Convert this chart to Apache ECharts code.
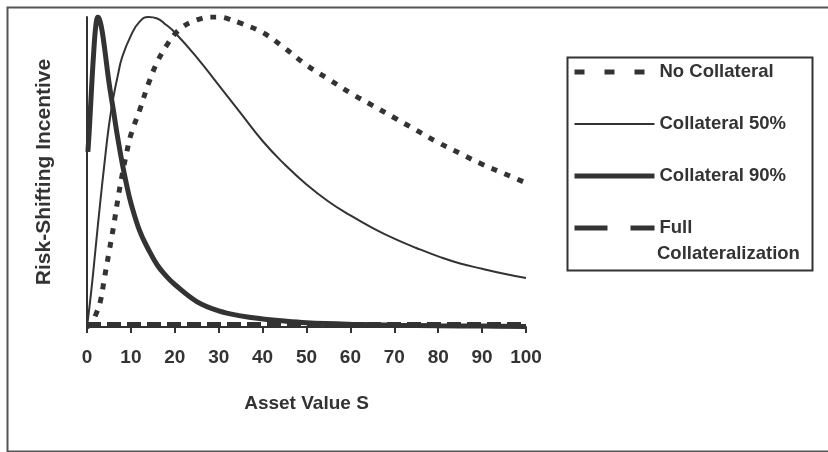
<!DOCTYPE html>
<html>
<head>
<meta charset="utf-8">
<script src="https://cdn.jsdelivr.net/npm/echarts@6/dist/echarts.min.js"></script>
<style>html,body{margin:0;padding:0;background:#fff}#c{width:828px;height:452px}</style>
</head>
<body>
<div id="c"></div>
<script>
// Asset value S sample points and normalized risk-shifting incentive
const sNoColl = [0,1,2,3,4,5,6,7,8,9,10,12,14,16,18,20,22,24,26,28,30,32,35,40,45,50,55,60,65,70,75,80,85,90,95,100];
const vNoColl = [0,0.01,0.04,0.08,0.16,0.24,0.32,0.41,0.49,0.56,0.62,0.70,0.785,0.855,0.905,0.945,0.97,0.985,0.995,1.0,1.0,0.995,0.98,0.95,0.90,0.845,0.80,0.755,0.715,0.675,0.635,0.595,0.56,0.525,0.495,0.465];

const s50 = [0,1,2,3,4,5,6,7,8,10,12,14,16,18,20,25,30,35,40,45,50,55,60,65,70,75,80,85,90,95,100];
const v50 = [0,0.12,0.26,0.40,0.53,0.65,0.74,0.81,0.87,0.94,0.985,1.0,0.995,0.975,0.95,0.87,0.78,0.69,0.60,0.525,0.46,0.405,0.36,0.32,0.285,0.255,0.228,0.205,0.188,0.172,0.158];

const s90 = [0.2,0.5,1,1.5,2,2.5,3,3.5,4,5,6,7,8,9,10,12,14,16,18,20,25,30,35,40,45,50,60,70,80,90,100];
const v90 = [0.565,0.63,0.76,0.88,0.97,1.0,0.985,0.95,0.9,0.79,0.70,0.61,0.53,0.46,0.40,0.31,0.25,0.2,0.165,0.137,0.082,0.052,0.036,0.026,0.019,0.014,0.009,0.006,0.004,0.003,0.002];

const sFull = [0,100];
const vFull = [0.008,0.008];

const seriesNames = ['No Collateral','Collateral 50%','Collateral 90%','Full Collateralization'];
const xTicks = [0,10,20,30,40,50,60,70,80,90,100];
const xTitle = 'Asset Value S';
const yTitle = 'Risk-Shifting Incentive';

function pairs(xs, ys){ return xs.map((x,i)=>[x, ys[i]]); }

const ink = '#333';
const font = 'Liberation Sans, Arial, Helvetica, sans-serif';
const hide = {opacity:0, color:ink};

const chart = echarts.init(document.getElementById('c'), null, {renderer:'canvas'});
chart.setOption({
  animation:false,
  backgroundColor:'#fff',
  color:[ink,ink,ink,ink],
  grid:{left:87, right:302, top:17, bottom:125, containLabel:false},
  xAxis:{
    type:'value', min:xTicks[0], max:xTicks[xTicks.length-1], interval:10,
    axisLine:{lineStyle:{color:ink,width:2}},
    axisTick:{show:true,inside:false,length:6,lineStyle:{color:ink,width:2}},
    axisLabel:{color:ink,fontFamily:font,fontWeight:'bold',fontSize:19,margin:21},
    splitLine:{show:false},
    name:xTitle, nameLocation:'middle', nameGap:67,
    nameTextStyle:{color:ink,fontFamily:font,fontWeight:'bold',fontSize:19}
  },
  yAxis:{
    type:'value', min:0, max:1,
    axisLine:{show:true,lineStyle:{color:ink,width:2}},
    axisTick:{show:false}, axisLabel:{show:false}, splitLine:{show:false},
    name:yTitle, nameLocation:'middle', nameGap:32, nameRotate:90,
    nameTextStyle:{color:ink,fontFamily:font,fontWeight:'bold',fontSize:21}
  },
  legend:{
    orient:'vertical', left:572, top:62, padding:0,
    itemWidth:80, itemHeight:14, itemGap:32,
    textStyle:{color:ink,fontFamily:font,fontWeight:'bold',fontSize:18.5,lineHeight:20},
    data:[
      {name:seriesNames[0], itemStyle:hide, lineStyle:{type:[10,20],width:5,color:ink}},
      {name:seriesNames[1], itemStyle:hide, lineStyle:{type:'solid',width:2,color:ink}},
      {name:seriesNames[2], itemStyle:hide, lineStyle:{type:'solid',width:5,color:ink}},
      {name:seriesNames[3], itemStyle:hide, lineStyle:{type:[33,23],width:5,color:ink}}
    ],
    formatter:function(n){ return n==='Full Collateralization' ? 'Full' : n; }
  },
  graphic:[
    {type:'rect', left:5, top:5, shape:{width:840,height:444}, style:{fill:null,stroke:'#555',lineWidth:2}, silent:true},
    {type:'rect', left:565, top:55, shape:{width:245,height:213}, style:{fill:null,stroke:ink,lineWidth:2}, silent:true},
    {type:'text', left:657, top:244, style:{text:'Collateralization', fill:ink, font:'bold 18.5px '+font}}
  ],
  series:[
    {name:seriesNames[0], type:'line', data:pairs(sNoColl,vNoColl), showSymbol:false, symbol:'none', smooth:0.4,
     itemStyle:{color:ink}, lineStyle:{color:ink,width:5,type:[6,8]}, z:3},
    {name:seriesNames[1], type:'line', data:pairs(s50,v50), showSymbol:false, symbol:'none', smooth:0.5,
     itemStyle:{color:ink}, lineStyle:{color:ink,width:2,type:'solid'}, z:4},
    {name:seriesNames[2], type:'line', data:pairs(s90,v90), showSymbol:false, symbol:'none', smooth:0.4,
     itemStyle:{color:ink}, lineStyle:{color:ink,width:5,type:'solid'}, z:2},
    {name:seriesNames[3], type:'line', data:pairs(sFull,vFull), showSymbol:false, symbol:'none',
     itemStyle:{color:ink}, lineStyle:{color:ink,width:5,type:[14,6]}, z:5}
  ]
});
</script>
</body>
</html>
